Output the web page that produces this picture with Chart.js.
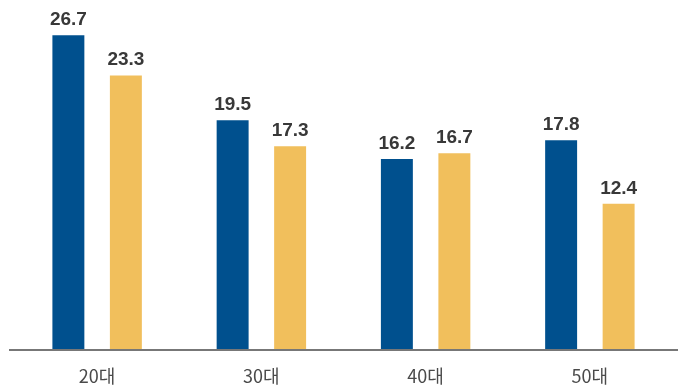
<!DOCTYPE html>
<html>
<head>
<meta charset="utf-8">
<script src="https://cdn.jsdelivr.net/npm/chart.js@4/dist/chart.umd.min.js"></script>
<style>
  body { margin: 0; background: #fff; }
  #wrap { width: 678px; height: 390px; }
</style>
</head>
<body>
<div id="wrap"><canvas id="chart1"></canvas></div>
<script>
'use strict'

var ages = ['20대', '30대', '40대', '50대'];
var blueValues = [26.7, 19.5, 16.2, 17.8];
var yellowValues = [23.3, 17.3, 16.7, 12.4];

///////////////////////////////////////////////////////////////////
// numbers over every bar
var valueLabels = {
  id: 'valueLabels',
  afterDatasetsDraw: function (chart) {
    var ctx = chart.ctx;
    ctx.save();
    ctx.font = 'bold 19px "Liberation Sans", Arial, sans-serif';
    ctx.fillStyle = '#383838';
    ctx.textAlign = 'center';
    ctx.textBaseline = 'bottom';
    chart.data.datasets.forEach(function (ds, i) {
      chart.getDatasetMeta(i).data.forEach(function (bar, j) {
        ctx.fillText(ds.data[j].toFixed(1), bar.x, bar.y - 6);
      });
    });
    ctx.restore();
  }
};

// baseline running the full width
var baseLine = {
  id: 'baseLine',
  afterDatasetsDraw: function (chart) {
    var ctx = chart.ctx;
    var y = chart.scales.y.getPixelForValue(0);
    ctx.save();
    ctx.strokeStyle = '#777777';
    ctx.lineWidth = 2;
    ctx.beginPath();
    ctx.moveTo(9, y);
    ctx.lineTo(chart.width, y);
    ctx.stroke();
    ctx.restore();
  }
};

///////////////////////////////////////////////////////////////////
function makeChart() {
  var ctx = document.getElementById('chart1').getContext('2d');
  new Chart(ctx, {
    type: 'bar',
    data: {
      labels: ages,
      datasets: [
        { data: blueValues, backgroundColor: '#00508e' },
        { data: yellowValues, backgroundColor: '#f1bf5c' }
      ]
    },
    options: {
      responsive: true,
      maintainAspectRatio: false,
      animation: false,
      datasets: { bar: { categoryPercentage: 0.70, barPercentage: 0.556 } },
      layout: { padding: { left: 15, right: 6, top: 0, bottom: 0 } },
      plugins: { legend: { display: false }, tooltip: { enabled: false } },
      scales: {
        x: {
          grid: { display: false, drawTicks: false },
          border: { display: false },
          afterFit: function (axis) { axis.height = 40; },
          ticks: {
            padding: 15,
            color: '#4a4a4a',
            font: { size: 18, family: '"Noto Sans CJK KR", sans-serif' }
          }
        },
        y: {
          display: false,
          min: 0,
          max: 29.7
        }
      }
    },
    plugins: [valueLabels, baseLine]
  });
}

makeChart();
</script>
</body>
</html>
